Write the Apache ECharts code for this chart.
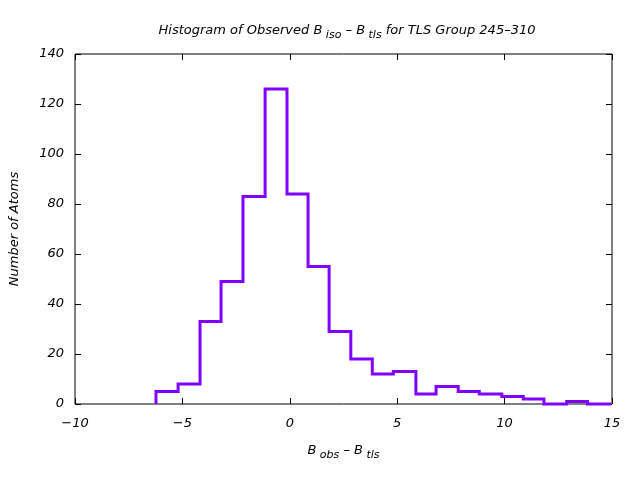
<!DOCTYPE html>
<html><head><meta charset="utf-8">
<script src="https://cdn.jsdelivr.net/npm/echarts@6/dist/echarts.min.js"></script>
<style>html,body{margin:0;padding:0;background:#fff}#c{width:640px;height:480px}</style>
</head><body><div id="c"></div>
<script>
// Bin edges (B_obs - B_tls) and counts
var binEdges = [-6.23, -5.20, -4.18, -3.20, -2.18, -1.15, -0.13, 0.85, 1.83, 2.84, 3.84, 4.82, 5.87, 6.81, 7.84, 8.82, 9.87, 10.87, 11.83, 12.89, 13.86, 14.95];
var counts = [5, 8, 33, 49, 83, 126, 84, 55, 29, 18, 12, 13, 4, 7, 5, 4, 3, 2, 0, 1, 0];
var xTicks = [-10, -5, 0, 5, 10, 15];
var yTicks = [0, 20, 40, 60, 80, 100, 120, 140];

var pts = [[binEdges[0], 0]];
for (var i = 0; i < counts.length; i++) {
  pts.push([binEdges[i], counts[i]]);
  pts.push([binEdges[i + 1], counts[i]]);
}
pts.push([binEdges[binEdges.length - 1], 0]);

var FONT = 'DejaVu Sans';
var FS = 13;
var lblStyle = {fontFamily: FONT, fontStyle: 'italic', fontSize: FS, color: '#000',
  formatter: function (v) { return String(v).replace('-', '−'); }};
var chart = echarts.init(document.getElementById('c'), null, {renderer: 'canvas'});
function axCommon() {
  return {
    axisLine: {show: false, onZero: false},
    axisTick: {show: true, inside: true, length: 6, lineStyle: {color: '#000', width: 1}},
    splitLine: {show: false}
  };
}
var subRich = {s: {fontFamily: FONT, fontStyle: 'italic', fontSize: 11, color: '#000', padding: [9, 0, 0, 0]}};
chart.setOption({
  animation: false,
  backgroundColor: '#fff',
  title: {
    text: 'Histogram of Observed B{s| iso} – B{s| tls} for TLS Group 245–310',
    left: 342, top: 16, textAlign: 'center',
    textStyle: {fontFamily: FONT, fontStyle: 'italic', fontWeight: 'normal', fontSize: FS, color: '#000', rich: subRich}
  },
  grid: {left: 75, right: 28, top: 54, bottom: 76, show: true, borderColor: '#000', borderWidth: 1,
    backgroundColor: 'transparent', containLabel: false, outerBoundsMode: 'none'},
  xAxis: [
    Object.assign(axCommon(), {type: 'value', min: xTicks[0], max: xTicks[xTicks.length - 1], interval: 5, position: 'bottom',
      axisLabel: Object.assign({margin: 13}, lblStyle),
      name: 'B{s| obs} – B{s| tls}', nameLocation: 'middle', nameGap: 37,
      nameTextStyle: {fontFamily: FONT, fontStyle: 'italic', fontSize: FS, color: '#000', rich: subRich}
    }),
    Object.assign(axCommon(), {type: 'value', min: xTicks[0], max: xTicks[xTicks.length - 1], interval: 5, position: 'top',
      axisLabel: {show: false}})
  ],
  yAxis: [
    Object.assign(axCommon(), {type: 'value', min: yTicks[0], max: yTicks[yTicks.length - 1], interval: 20, position: 'left',
      axisLabel: Object.assign({margin: 11}, lblStyle),
      name: 'Number of Atoms', nameLocation: 'middle', nameGap: 54, nameRotate: 90,
      nameTextStyle: {fontFamily: FONT, fontStyle: 'italic', fontSize: FS, color: '#000'}
    }),
    Object.assign(axCommon(), {type: 'value', min: yTicks[0], max: yTicks[yTicks.length - 1], interval: 20, position: 'right',
      axisLabel: {show: false}})
  ],
  series: [{
    type: 'line', data: pts, showSymbol: false, symbol: 'none', clip: false,
    lineStyle: {color: '#8000ff', width: 3, join: 'miter'}
  }]
});
</script></body></html>
